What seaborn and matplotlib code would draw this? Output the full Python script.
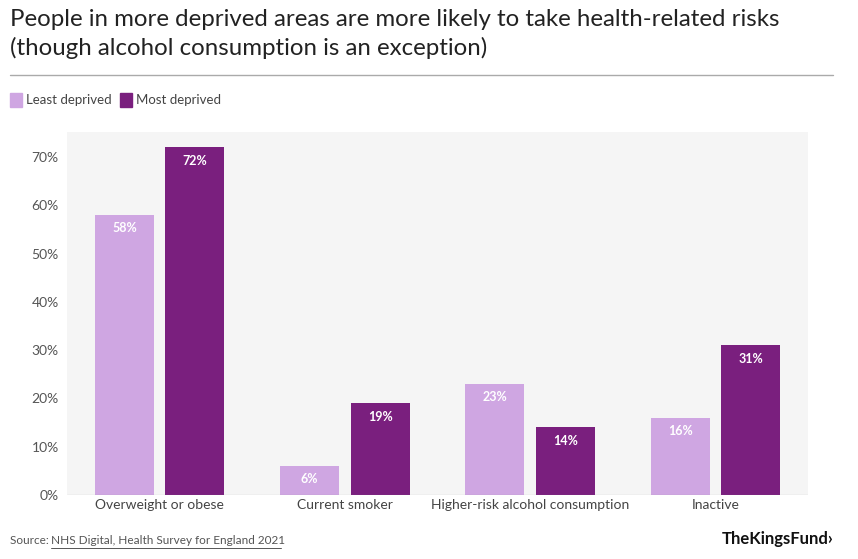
import matplotlib
matplotlib.use("Agg")
import matplotlib.pyplot as plt
import seaborn as sns
import pandas as pd
from matplotlib.lines import Line2D
from matplotlib.patches import Rectangle

categories = ["Overweight or obese", "Current smoker", "Higher-risk alcohol consumption", "Inactive"]
least_deprived = [58, 6, 23, 16]
most_deprived = [72, 19, 14, 31]
series_names = ["Least deprived", "Most deprived"]
y_ticks = [0, 10, 20, 30, 40, 50, 60, 70]

colors = ["#CFA6E2", "#7A1F7E"]

df = pd.DataFrame({
    "category": categories * 2,
    "value": least_deprived + most_deprived,
    "series": [series_names[0]] * 4 + [series_names[1]] * 4,
})

sns.set_theme(style="white")
plt.rcParams["font.family"] = ["Lato", "DejaVu Sans"]

W, H = 858, 559
fig = plt.figure(figsize=(W / 100, H / 100), dpi=100)
ax = fig.add_axes([67 / W, 1 - 495 / H, (808 - 67) / W, (495 - 132) / H])
ax.set_facecolor("#F5F5F5")

sns.barplot(data=df, x="category", y="value", hue="series", palette=colors,
            width=0.76, gap=0.16, ax=ax, legend=False, saturation=1,
            edgecolor="none")

ax.set_ylim(0, 75.2)
ax.set_xlim(-0.5, 3.5)
ax.set_yticks(y_ticks)
ax.set_yticklabels([f"{t}%" for t in y_ticks])
ax.tick_params(axis="y", length=0, labelsize=10, labelcolor="#555555", pad=6)
ax.tick_params(axis="x", length=0, labelsize=10, labelcolor="#444444", pad=3)
ax.set_xlabel("")
ax.set_ylabel("")
for s in ax.spines.values():
    s.set_visible(False)
ax.axhline(0, color="#888888", lw=0.8)

for container in ax.containers:
    labels = [f"{int(round(v))}%" for v in container.datavalues]
    ax.bar_label(container, labels=labels, label_type="edge", padding=-14,
                 color="white", fontsize=9, fontweight="bold")

fig.text(10 / W, 1 - 20 / H, "People in more deprived areas are more likely to take health-related risks",
         fontsize=17.3, color="#222222", va="center", ha="left")
fig.text(10 / W, 1 - 48 / H, "(though alcohol consumption is an exception)",
         fontsize=17.3, color="#222222", va="center", ha="left")
fig.add_artist(Line2D([10 / W, 833 / W], [1 - 75 / H, 1 - 75 / H], color="#AAAAAA", lw=1))

# legend
fig.add_artist(Rectangle((10 / W, 1 - 107 / H), 12 / W, 14 / H, color=colors[0], transform=fig.transFigure))
fig.text(26 / W, 1 - 100 / H, series_names[0], fontsize=9.5, color="#444444", va="center")
fig.add_artist(Rectangle((120 / W, 1 - 107 / H), 12 / W, 14 / H, color=colors[1], transform=fig.transFigure))
fig.text(136 / W, 1 - 100 / H, series_names[1], fontsize=9.5, color="#444444", va="center")

fig.text(10 / W, 1 - 541 / H, "Source: ", fontsize=8.5, color="#555555", va="center")
fig.text(51 / W, 1 - 541 / H, "NHS Digital, Health Survey for England 2021", fontsize=8.5,
         color="#555555", va="center")
fig.add_artist(Line2D([51 / W, 281 / W], [1 - 548 / H, 1 - 548 / H], color="#555555", lw=0.7))
fig.text(833 / W, 1 - 539 / H, "TheKingsFund\u203A", fontsize=12, fontweight="bold",
         color="#111111", va="center", ha="right")

fig.savefig("out.png", dpi=100, facecolor="white")
